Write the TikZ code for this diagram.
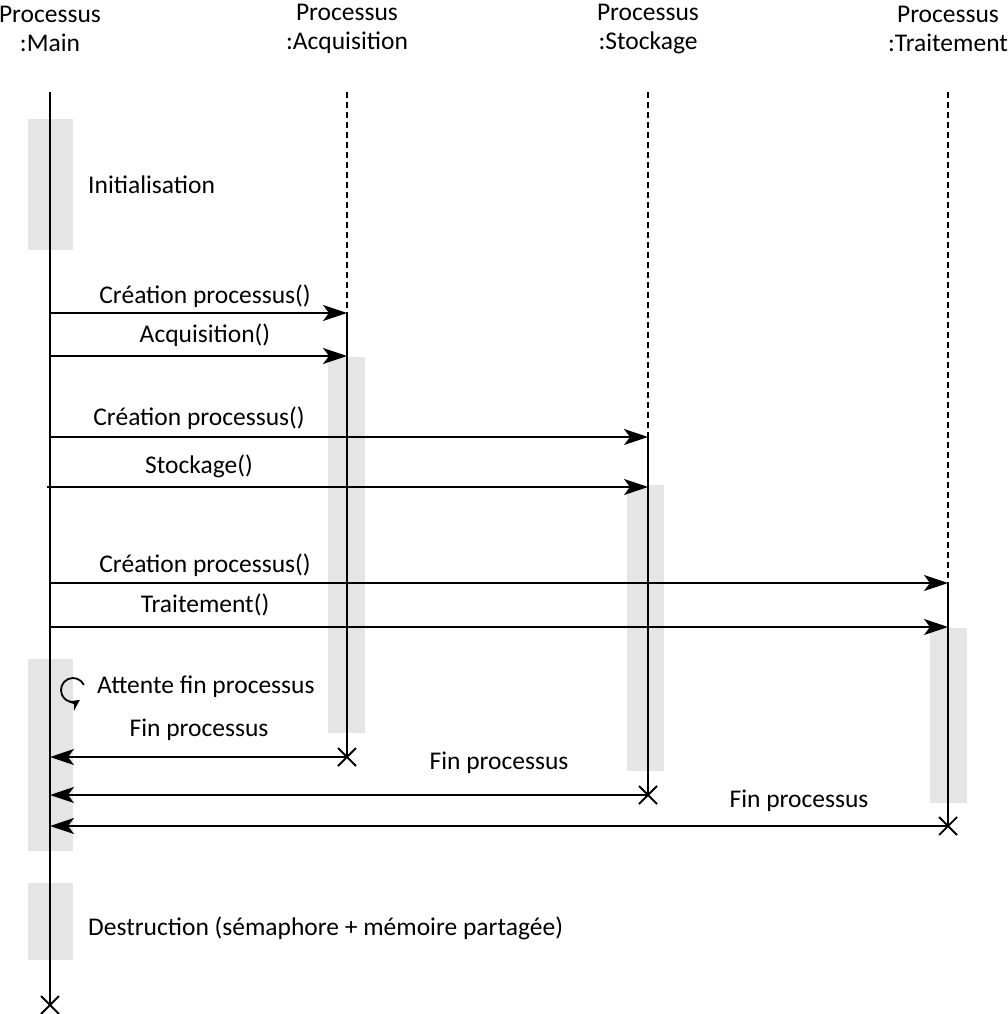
\documentclass[tikz,border=0pt]{standalone}
\usepackage{fontspec}
\setmainfont{Carlito}
\usetikzlibrary{arrows.meta}
\begin{document}
\begin{tikzpicture}[x=1pt,y=-1pt,
  lbl/.style={font=\fontsize{25.5}{28}\selectfont, inner sep=0pt},
  hdr/.style={font=\fontsize{25.5}{29}\selectfont, inner sep=0pt, align=center},
  life/.style={line width=2pt},
  dashlife/.style={line width=2pt, dash pattern=on 6pt off 4pt},
  act/.style={fill=black!10, draw=none},
  msg/.style={line width=2pt, -{Stealth[length=24pt,width=16pt,inset=6pt]}},
  xmark/.style={line width=1.8pt}]
\useasboundingbox (0,0) rectangle (1008,1014);
% activation boxes
\fill[act] (28,119) rectangle (73,250);
\fill[act] (28,659) rectangle (73,851);
\fill[act] (28,883) rectangle (73,960);
\fill[act] (328,357) rectangle (365,733);
\fill[act] (627,485) rectangle (664,771);
\fill[act] (930,628) rectangle (967,803);
% headers
\node[hdr] (hM) at (50,29) {Processus\\:Main};
\node[hdr] (hA) at (347,29) {Processus\\:Acquisition};
\node[hdr] (hS) at (648,29) {Processus\\:Stockage};
\node[hdr] (hT) at (948,29) {Processus\\:Traitement};
% lifeline coordinates
\coordinate (m0) at (50,92);
\coordinate (mEnd) at (50,1005);
\coordinate (a0) at (347,92);
\coordinate (a1) at (347,313);
\coordinate (a2) at (347,356);
\coordinate (aEnd) at (347,757);
\coordinate (s0) at (648,92);
\coordinate (s1) at (648,437);
\coordinate (s2) at (648,487);
\coordinate (sEnd) at (648,795);
\coordinate (t0) at (948,92);
\coordinate (t1) at (948,583);
\coordinate (t2) at (948,627);
\coordinate (tEnd) at (948,826);
\coordinate (mA1) at (50,313);
\coordinate (mA2) at (50,356);
\coordinate (mS1) at (50,437);
\coordinate (mS2) at (47,487);
\coordinate (mT1) at (50,583);
\coordinate (mT2) at (50,627);
\coordinate (mRA) at (50,757);
\coordinate (mRS) at (50,795);
\coordinate (mRT) at (50,826);
% lifelines
\draw[life] (m0) -- (mEnd);
\draw[dashlife] (a0) -- (a1);
\draw[life] (a1) -- (aEnd);
\draw[dashlife] (s0) -- (s1);
\draw[life] (s1) -- (sEnd);
\draw[dashlife] (t0) -- (t1);
\draw[life] (t1) -- (tEnd);
% X marks
\foreach \p in {mEnd,aEnd,sEnd,tEnd}{
  \draw[xmark] ([shift={(-9,-9)}]\p) -- ([shift={(9,9)}]\p);
  \draw[xmark] ([shift={(-9,9)}]\p) -- ([shift={(9,-9)}]\p);
}
% messages
\draw[msg] (mA1) -- (a1);
\draw[msg] (mA2) -- (a2);
\draw[msg] (mS1) -- (s1);
\draw[msg] (mS2) -- (s2);
\draw[msg] (mT1) -- (t1);
\draw[msg] (mT2) -- (t2);
\draw[msg] (aEnd) -- (mRA);
\draw[msg] (sEnd) -- (mRS);
\draw[msg] (tEnd) -- (mRT);
% message labels
\node[lbl] (l1) at (205,296) {Création processus()};
\node[lbl] (l2) at (205,335) {Acquisition()};
\node[lbl] (l3) at (199,418) {Création processus()};
\node[lbl] (l4) at (199,466) {Stockage()};
\node[lbl] (l5) at (205,565) {Création processus()};
\node[lbl] (l6) at (205,605) {Traitement()};
\node[lbl] (l7) at (199,730) {Fin processus};
\node[lbl] (l8) at (499,763) {Fin processus};
\node[lbl] (l9) at (799,801) {Fin processus};
% notes
\node[lbl, anchor=west] (n1) at (88,185) {Initialisation};
\node[lbl, anchor=west] (n2) at (97,687) {Attente fin processus};
\node[lbl, anchor=west] (n3) at (88,928) {Destruction (sémaphore + mémoire partagée)};
% loop icon
\coordinate (loopc) at (73,690);
\draw[line width=1.8pt, -{Stealth[length=11pt,width=11pt]}] ([shift={(-25:12)}]loopc) arc[start angle=-25, end angle=-305, radius=12];
\end{tikzpicture}
\end{document}
